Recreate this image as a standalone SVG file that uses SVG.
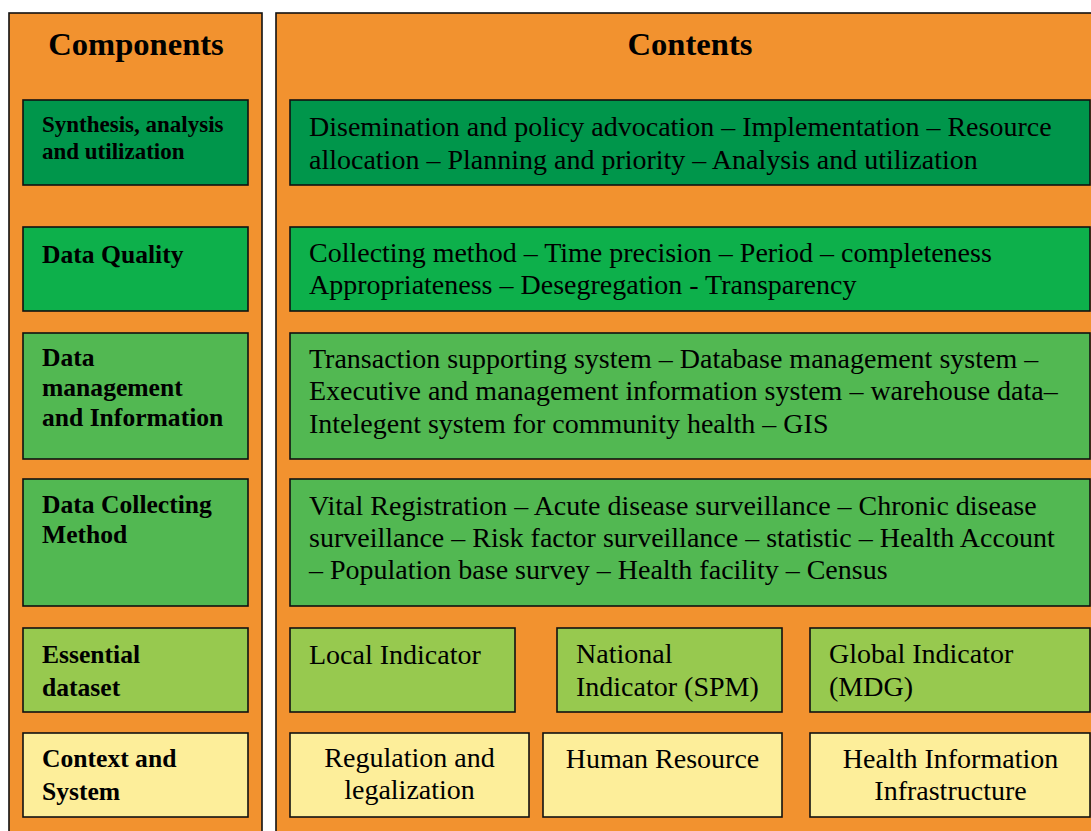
<svg xmlns="http://www.w3.org/2000/svg" width="1091" height="831" viewBox="0 0 1091 831">
<style>
.panel{fill:#F2922F;stroke:#111;stroke-width:1.6}
.box{stroke:#111;stroke-width:1.6}
.g1{fill:#00964B}
.g2{fill:#0DB04B}
.g3{fill:#52B852}
.g4{fill:#97C94F}
.y{fill:#FDEE9A}
.title{font-family:"Liberation Serif","Times New Roman",serif;font-weight:bold;font-size:32.6px;fill:#000;text-anchor:middle}
.lab{font-family:"Liberation Serif","Times New Roman",serif;font-weight:bold;font-size:25.6px;fill:#000}
.labs{font-family:"Liberation Serif","Times New Roman",serif;font-weight:bold;font-size:23px;fill:#000}
.txt{font-family:"Liberation Serif","Times New Roman",serif;font-size:28px;fill:#000}
.mid{text-anchor:middle}
</style>
<rect width="1091" height="831" fill="#fff"/>
<g id="panel-components">
<rect class="panel" x="9" y="13" width="253" height="830"/>
<text class="title" x="136" y="55">Components</text>
</g>
<g id="panel-contents">
<rect class="panel" x="276" y="13" width="830" height="830"/>
<text class="title" x="690" y="55">Contents</text>
</g>
<g id="comp-synthesis">
<rect class="box g1" x="23" y="100" width="225" height="85"/>
<text class="labs" x="42" y="132">Synthesis, analysis</text>
<text class="labs" x="42" y="158.5">and utilization</text>
</g>
<g id="comp-quality">
<rect class="box g2" x="23" y="227" width="225" height="84"/>
<text class="lab" x="42" y="263">Data Quality</text>
</g>
<g id="comp-management">
<rect class="box g3" x="23" y="333" width="225" height="126"/>
<text class="lab" x="42" y="366">Data</text>
<text class="lab" x="42" y="396">management</text>
<text class="lab" x="42" y="425.5">and Information</text>
</g>
<g id="comp-collecting">
<rect class="box g3" x="23" y="479" width="225" height="127"/>
<text class="lab" x="42" y="513">Data Collecting</text>
<text class="lab" x="42" y="543">Method</text>
</g>
<g id="comp-essential">
<rect class="box g4" x="23" y="628" width="225" height="84"/>
<text class="lab" x="42" y="663">Essential</text>
<text class="lab" x="42" y="696">dataset</text>
</g>
<g id="comp-context">
<rect class="box y" x="23" y="733" width="225" height="84"/>
<text class="lab" x="42" y="767">Context and</text>
<text class="lab" x="42" y="800">System</text>
</g>
<g id="cont-synthesis">
<rect class="box g1" x="290" y="100" width="800" height="85"/>
<text class="txt" x="309" y="136">Disemination and policy advocation – Implementation – Resource</text>
<text class="txt" x="309" y="168.5">allocation – Planning and priority – Analysis and utilization</text>
</g>
<g id="cont-quality">
<rect class="box g2" x="290" y="227" width="800" height="84"/>
<text class="txt" x="309" y="262">Collecting method – Time precision – Period – completeness</text>
<text class="txt" x="309" y="294">Appropriateness – Desegregation - Transparency</text>
</g>
<g id="cont-management">
<rect class="box g3" x="290" y="333" width="800" height="126"/>
<text class="txt" x="309" y="368">Transaction supporting system – Database management system –</text>
<text class="txt" x="309" y="400">Executive and management information system – warehouse data–</text>
<text class="txt" x="309" y="432.5">Intelegent system for community health – GIS</text>
</g>
<g id="cont-collecting">
<rect class="box g3" x="290" y="479" width="800" height="127"/>
<text class="txt" x="309" y="515">Vital Registration – Acute disease surveillance – Chronic disease</text>
<text class="txt" x="309" y="547">surveillance – Risk factor surveillance – statistic – Health Account</text>
<text class="txt" x="309" y="579">– Population base survey – Health facility – Census</text>
</g>
<g id="local-indicator">
<rect class="box g4" x="290" y="628" width="225" height="84"/>
<text class="txt" x="309" y="664">Local Indicator</text>
</g>
<g id="national-indicator">
<rect class="box g4" x="557" y="628" width="225" height="84"/>
<text class="txt" x="576" y="663">National</text>
<text class="txt" x="576" y="696">Indicator (SPM)</text>
</g>
<g id="global-indicator">
<rect class="box g4" x="810" y="628" width="280" height="84"/>
<text class="txt" x="829" y="663">Global Indicator</text>
<text class="txt" x="829" y="696">(MDG)</text>
</g>
<g id="regulation">
<rect class="box y" x="290" y="733" width="239" height="84"/>
<text class="txt mid" x="409.5" y="767">Regulation and</text>
<text class="txt mid" x="409.5" y="799">legalization</text>
</g>
<g id="human-resource">
<rect class="box y" x="543" y="733" width="239" height="84"/>
<text class="txt mid" x="662.5" y="768">Human Resource</text>
</g>
<g id="health-infrastructure">
<rect class="box y" x="810" y="733" width="280" height="84"/>
<text class="txt mid" x="950.5" y="768">Health Information</text>
<text class="txt mid" x="950.5" y="800">Infrastructure</text>
</g>
<g id="connectors"/>
</svg>
